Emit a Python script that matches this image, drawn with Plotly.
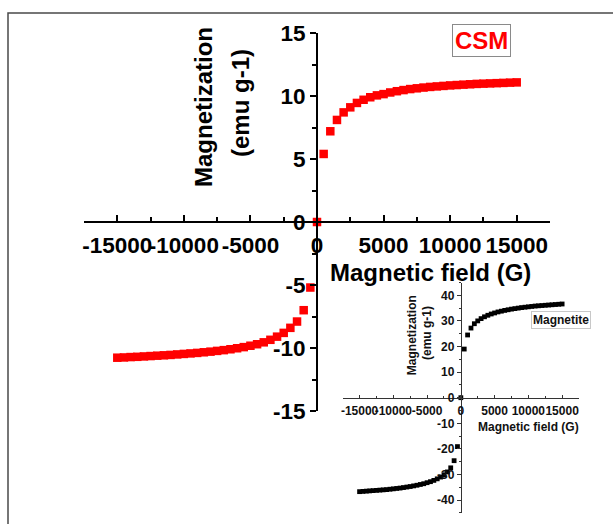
import plotly.graph_objects as go

# ---------------- CSM sample (main panel) ----------------
csm_field = [-15000, -14500, -14000, -13500, -13000, -12500, -12000, -11500, -11000,
             -10500, -10000, -9500, -9000, -8500, -8000, -7500, -7000, -6500, -6000,
             -5500, -5000, -4500, -4000, -3500, -3000, -2500, -2000, -1500, -1000, -500,
             0, 500, 1000, 1500, 2000, 2500, 3000, 3500, 4000, 4500, 5000, 5500, 6000,
             6500, 7000, 7500, 8000, 8500, 9000, 9500, 10000, 10500, 11000, 11500,
             12000, 12500, 13000, 13500, 14000, 14500, 15000]
csm_mag = [-10.77, -10.75, -10.72, -10.70, -10.67, -10.64, -10.61, -10.58, -10.55,
           -10.51, -10.47, -10.43, -10.39, -10.34, -10.29, -10.23, -10.17, -10.10, -10.02,
           -9.93, -9.82, -9.70, -9.55, -9.35, -9.10, -8.80, -8.40, -7.90, -7.00, -5.20,
           0.0, 5.40, 7.20, 8.10, 8.70, 9.10, 9.45, 9.70, 9.90, 10.05, 10.15, 10.28, 10.38,
           10.47, 10.55, 10.61, 10.67, 10.72, 10.76, 10.80, 10.84, 10.87, 10.90, 10.93,
           10.96, 10.98, 11.00, 11.02, 11.04, 11.06, 11.08]

# ---------------- Magnetite reference (inset) ----------------
mag_field = csm_field
mag_mag = [-36.7, -36.6, -36.5, -36.4, -36.3, -36.2, -36.1, -36.0, -35.9,
           -35.75, -35.6, -35.45, -35.3, -35.1, -34.9, -34.7, -34.45, -34.2, -33.9,
           -33.6, -33.2, -32.8, -32.3, -31.7, -31.0, -30.1, -29.0, -27.4, -24.6, -19.1,
           0.0, 19.0, 24.5, 27.2, 28.9, 30.0, 30.9, 31.6, 32.2, 32.7, 33.1, 33.5, 33.8,
           34.1, 34.35, 34.6, 34.8, 35.0, 35.2, 35.35, 35.5, 35.65, 35.8, 35.9,
           36.0, 36.1, 36.2, 36.3, 36.4, 36.5, 36.6]

# ---------------- tick labels ----------------
field_ticks = [-15000, -10000, -5000, 0, 5000, 10000, 15000]
field_labels = ["-15000", "-10000", "-5000", "0", "5000", "10000", "15000"]
csm_ticks = [-15, -10, -5, 0, 5, 10, 15]
csm_labels = ["-15", "-10", "-5", "0", "5", "10", "15"]
mag_ticks = [-40, -30, -20, -10, 0, 10, 20, 30, 40]
mag_labels = ["-40", "-30", "-20", "-10", "0", "10", "20", "30", "40"]

W, H = 613, 524
FONT = "Liberation Sans, Arial, sans-serif"


def px_x(p):
    return p / W


def px_y(p):
    return 1 - p / H


fig = go.Figure()

fig.add_trace(go.Scatter(
    x=csm_field, y=csm_mag, mode="markers",
    marker=dict(symbol="square", size=8.5, color="#ff0000", line=dict(width=0)),
    xaxis="x", yaxis="y", showlegend=False, cliponaxis=False,
))
fig.add_trace(go.Scatter(
    x=mag_field, y=mag_mag, mode="markers",
    marker=dict(symbol="square", size=4.8, color="#000000", line=dict(width=0)),
    xaxis="x2", yaxis="y2", showlegend=False, cliponaxis=False,
))

# main panel geometry
mx0, mx1 = px_x(84), px_x(550)
my0, my1 = px_y(411), px_y(33)
# inset geometry
ix0, ix1 = px_x(342.7), px_x(579)
iy0, iy1 = px_y(512.9), px_y(282.5)

main_tick_font = dict(family=FONT, size=22.5, color="black", weight="bold")
inset_tick_font = dict(family=FONT, size=12, color="#111111", weight="bold")

fig.update_layout(
    width=W, height=H,
    margin=dict(l=0, r=0, t=0, b=0),
    paper_bgcolor="white", plot_bgcolor="rgba(0,0,0,0)",
    font=dict(family=FONT),
    xaxis=dict(
        domain=[mx0, mx1], range=[-17500, 17500], anchor="free",
        position=(my0 + my1) / 2,
        showline=True, linewidth=2, linecolor="black",
        ticks="inside", ticklen=6, tickwidth=2, tickcolor="black",
        tickmode="array", tickvals=field_ticks, ticktext=field_labels,
        tickangle=0, tickfont=main_tick_font, ticklabelstandoff=3,
        minor=dict(ticks="inside", ticklen=4, tickwidth=2, tickcolor="black",
                   dtick=2500, tick0=0, showgrid=False),
        showgrid=False, zeroline=False, automargin=False,
    ),
    yaxis=dict(
        domain=[my0, my1], range=[-15, 15], anchor="free",
        position=(mx0 + mx1) / 2, side="left",
        showline=True, linewidth=2, linecolor="black",
        ticks="outside", ticklen=6, tickwidth=2, tickcolor="black",
        tickmode="array", tickvals=csm_ticks, ticktext=csm_labels,
        tickfont=main_tick_font,
        minor=dict(ticks="outside", ticklen=4, tickwidth=2, tickcolor="black",
                   dtick=2.5, tick0=0, showgrid=False),
        showgrid=False, zeroline=False, automargin=False,
    ),
    xaxis2=dict(
        domain=[ix0, ix1], range=[-17500, 17500], anchor="free",
        position=(iy0 + iy1) / 2,
        showline=True, linewidth=1, linecolor="#333333",
        ticks="inside", ticklen=3, tickwidth=1, tickcolor="#333333",
        tickmode="array", tickvals=field_ticks, ticktext=field_labels,
        tickangle=0, tickfont=inset_tick_font, ticklabelstandoff=2,
        minor=dict(ticks="inside", ticklen=2, tickwidth=1, tickcolor="#333333",
                   dtick=2500, tick0=0, showgrid=False),
        showgrid=False, zeroline=False, automargin=False,
    ),
    yaxis2=dict(
        domain=[iy0, iy1], range=[-45, 45], anchor="free",
        position=(ix0 + ix1) / 2, side="left",
        showline=True, linewidth=1, linecolor="#333333",
        ticks="outside", ticklen=4, tickwidth=1, tickcolor="#333333",
        tickmode="array", tickvals=mag_ticks, ticktext=mag_labels,
        tickfont=inset_tick_font,
        minor=dict(ticks="outside", ticklen=2, tickwidth=1, tickcolor="#333333",
                   dtick=5, tick0=0, showgrid=False),
        showgrid=False, zeroline=False, automargin=False,
    ),
)

title_font = dict(family=FONT, size=24, color="black", weight="bold")
inset_title_font = dict(family=FONT, size=12, color="#111111", weight="bold")


def note(text, x, y, font, angle=0, **kw):
    fig.add_annotation(text=text, x=px_x(x), y=px_y(y), xref="paper", yref="paper",
                       showarrow=False, textangle=angle, font=font,
                       xanchor="center", yanchor="middle", **kw)


# axis titles of the main panel
note("Magnetization", 203, 107, title_font, angle=-90)
note("(emu g-1)", 240, 103, title_font, angle=-90)
note("Magnetic field (G)", 430, 272, title_font)

# sample label
note("CSM", 481.7, 40, dict(family=FONT, size=24, color="#ff0000", weight="bold"),
     bordercolor="#8a8a8a", borderwidth=1, borderpad=2, bgcolor="white")

# inset titles and label
note("Magnetization", 411.7, 335.5, inset_title_font, angle=-90)
note("(emu g-1)", 427, 333, inset_title_font, angle=-90)
note("Magnetic field (G)", 528, 427, inset_title_font)
note("Magnetite", 561.4, 320, inset_title_font,
     bordercolor="#c8c8c8", borderwidth=1, borderpad=1, bgcolor="white")

# outer frame around the figure
fig.add_shape(type="rect", xref="paper", yref="paper",
              x0=px_x(8), x1=1.05, y0=-0.05, y1=px_y(13),
              line=dict(color="#4a4a4a", width=1.5), layer="below")

fig.write_html("out.html")
